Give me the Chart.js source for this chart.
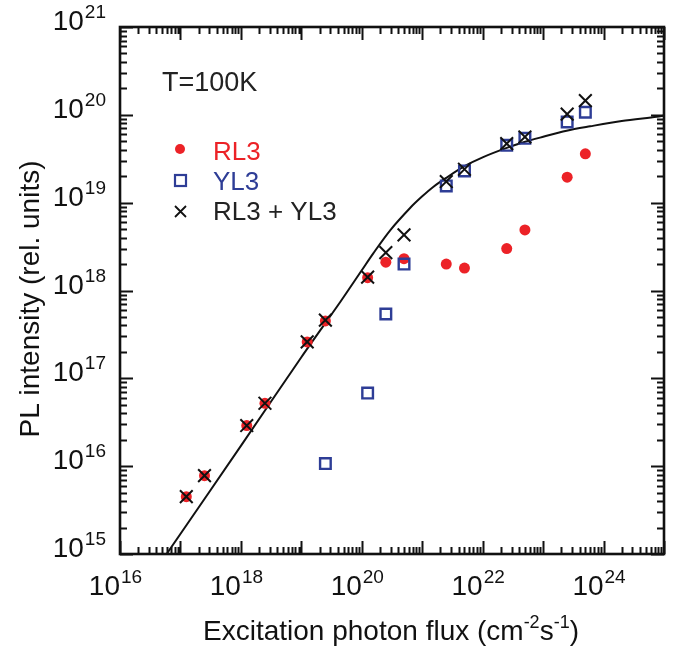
<!DOCTYPE html>
<html>
<head>
<meta charset="utf-8">
<script src="https://cdn.jsdelivr.net/npm/chart.js@4/dist/chart.umd.min.js"></script>
<style>
  html, body { margin: 0; padding: 0; background: #fff; }
  #wrap { width: 684px; height: 648px; }
</style>
</head>
<body>
<div id="wrap"><canvas id="c" width="684" height="648"></canvas></div>
<script>
// DATA
const flux = [1.25e17, 2.5e17, 1.25e18, 2.5e18, 1.25e19, 2.5e19, 1.25e20, 2.5e20,
  5e20, 2.5e21, 5e21, 2.5e22, 5e22, 2.5e23, 5e23];
const rl3 = [4.5e15, 7.8e15, 2.9e16, 5.2e16, 2.6e17, 4.5e17, 1.4e18, 2.1e18,
  2.3e18, 2.0e18, 1.8e18, 3.0e18, 4.9e18, 1.95e19, 3.6e19];
const yl3 = [null, null, null, null, null, 1.07e16, 6.8e16, 5.4e17,
  2.0e18, 1.55e19, 2.3e19, 4.5e19, 5.4e19, 8.3e19, 1.07e20];
const sumRY = [4.5e15, 7.8e15, 2.9e16, 5.2e16, 2.6e17, 4.6e17, 1.42e18, 2.7e18,
  4.3e18, 1.74e19, 2.4e19, 4.7e19, 5.6e19, 1.02e20, 1.45e20];

// solid fit curve
const fitX = [5.9e16, 1e18, 1e19, 4.4e19, 1e20, 1.55e20, 2.95e20, 6.3e20,
  1e21, 1.5e21, 2.45e21, 5e21, 1.02e22, 2.5e22, 4.9e22, 8.9e22, 2.45e23, 6e23,
  2e24, 7.6e24, 1e25];
const fitY = [1e15, 1.7e16, 1.74e17, 7.4e17, 1.7e18, 2.65e18, 4.85e18, 8.7e18,
  1.18e19, 1.5e19, 1.9e19, 2.6e19, 3.3e19, 4.2e19, 4.9e19, 5.5e19, 6.6e19, 7.4e19,
  8.5e19, 9.5e19, 9.8e19];

const xLabelExps = [16, 18, 20, 22, 24];
const yLabelExps = [15, 16, 17, 18, 19, 20, 21];

const RED = "#ec2227";
const BLUE = "#2e3d96";
const FONT = "'Liberation Sans', Arial, sans-serif";

function pts(ys) {
  const out = [];
  flux.forEach((x, i) => { if (ys[i] != null) out.push({ x, y: ys[i] }); });
  return out;
}

// draw 10^n with a raised exponent
function drawPow(ctx, exp, x, y, align) {
  ctx.font = `28px ${FONT}`;
  const wb = ctx.measureText("10").width;
  ctx.font = `19px ${FONT}`;
  const we = ctx.measureText(String(exp)).width;
  let left;
  if (align === "right") left = x - wb - we;
  else left = x - wb; // "10" ends at x
  ctx.textAlign = "left";
  ctx.textBaseline = "alphabetic";
  ctx.font = `28px ${FONT}`;
  ctx.fillText("10", left, y);
  ctx.font = `19px ${FONT}`;
  ctx.fillText(String(exp), left + wb + 1, y - 12);
}

const framePlugin = {
  id: "frame",
  afterDraw(chart) {
    const ctx = chart.ctx;
    const { left, right, top, bottom } = chart.chartArea;
    const xs = chart.scales.x, ys = chart.scales.y;
    ctx.save();
    ctx.strokeStyle = "#111";
    ctx.fillStyle = "#111";

    // ticks, pointing inward on all four sides
    ctx.lineWidth = 2;
    ctx.beginPath();
    for (let n = 16; n <= 25; n++) {
      for (let m = 1; m <= 9; m++) {
        const v = m * Math.pow(10, n);
        if (v < xs.min || v > xs.max) continue;
        const px = Math.round(xs.getPixelForValue(v)) + 0.5;
        const len = m === 1 ? 13 : 7;
        ctx.moveTo(px, bottom); ctx.lineTo(px, bottom - len);
        ctx.moveTo(px, top); ctx.lineTo(px, top + len);
      }
    }
    for (let n = 15; n <= 21; n++) {
      for (let m = 1; m <= 9; m++) {
        const v = m * Math.pow(10, n);
        if (v < ys.min || v > ys.max) continue;
        const py = Math.round(ys.getPixelForValue(v)) + 0.5;
        const len = m === 1 ? 13 : 7;
        ctx.moveTo(left, py); ctx.lineTo(left + len, py);
        ctx.moveTo(right, py); ctx.lineTo(right - len, py);
      }
    }
    ctx.stroke();

    // frame
    ctx.lineWidth = 2.6;
    ctx.strokeRect(left, top, right - left, bottom - top);

    // tick labels
    xLabelExps.forEach((e) => {
      drawPow(ctx, e, xs.getPixelForValue(Math.pow(10, e)), bottom + 41, "center");
    });
    yLabelExps.forEach((e) => {
      drawPow(ctx, e, left - 15, ys.getPixelForValue(Math.pow(10, e)) + 3, "right");
    });

    // axis titles
    ctx.textBaseline = "alphabetic";
    const parts = [["Excitation photon flux (cm", 28, 0], ["-2", 18, -12], ["s", 28, 0], ["-1", 18, -12], [")", 28, 0]];
    let total = 0;
    parts.forEach((p) => { ctx.font = `${p[1]}px ${FONT}`; total += ctx.measureText(p[0]).width; });
    let cx = 391 - total / 2;
    ctx.textAlign = "left";
    parts.forEach((p) => {
      ctx.font = `${p[1]}px ${FONT}`;
      ctx.fillText(p[0], cx, 640 + p[2]);
      cx += ctx.measureText(p[0]).width;
    });

    ctx.save();
    ctx.translate(39, 299);
    ctx.rotate(-Math.PI / 2);
    ctx.textAlign = "center";
    ctx.font = `28px ${FONT}`;
    ctx.fillText("PL intensity (rel. units)", 0, 0);
    ctx.restore();

    // annotation + legend
    ctx.textAlign = "left";
    ctx.font = `27px ${FONT}`;
    ctx.fillStyle = "#222";
    ctx.fillText("T=100K", 162, 91);

    ctx.font = `26px ${FONT}`;
    ctx.fillStyle = RED;
    ctx.beginPath(); ctx.arc(180, 149, 5, 0, Math.PI * 2); ctx.fill();
    ctx.fillText("RL3", 213, 160);

    ctx.strokeStyle = BLUE; ctx.lineWidth = 2.2; ctx.fillStyle = BLUE;
    ctx.strokeRect(175, 175, 11, 11);
    ctx.fillText("YL3", 213, 190);

    ctx.strokeStyle = "#111"; ctx.fillStyle = "#222"; ctx.lineWidth = 1.8;
    ctx.beginPath();
    ctx.moveTo(175, 206); ctx.lineTo(186, 217);
    ctx.moveTo(186, 206); ctx.lineTo(175, 217);
    ctx.stroke();
    ctx.fillText("RL3 + YL3", 213, 220);

    ctx.restore();
  },
};

new Chart(document.getElementById("c"), {
  type: "scatter",
  data: {
    datasets: [
      {
        label: "RL3 + YL3",
        data: pts(sumRY),
        pointStyle: "crossRot",
        radius: 9,
        borderColor: "#111",
        borderWidth: 2,
        order: 0,
      },
      {
        label: "YL3",
        data: pts(yl3),
        pointStyle: "rect",
        radius: 7.5,
        borderColor: BLUE,
        backgroundColor: "rgba(0,0,0,0)",
        borderWidth: 2.4,
        order: 1,
      },
      {
        label: "RL3",
        data: pts(rl3),
        pointStyle: "circle",
        radius: 5.5,
        borderWidth: 0,
        backgroundColor: RED,
        order: 2,
      },
      {
        label: "fit",
        data: fitX.map((x, i) => ({ x, y: fitY[i] })),
        showLine: true,
        radius: 0,
        borderColor: "#111",
        borderWidth: 2,
        tension: 0.3,
        order: 3,
      },
    ],
  },
  options: {
    responsive: false,
    animation: false,
    layout: { padding: { left: 120, right: 20, top: 27, bottom: 94 } },
    plugins: { legend: { display: false }, tooltip: { enabled: false } },
    scales: {
      x: { type: "logarithmic", min: 1e16, max: 1e25, display: false },
      y: { type: "logarithmic", min: 1e15, max: 1e21, display: false },
    },
  },
  plugins: [framePlugin],
});
</script>
</body>
</html>
